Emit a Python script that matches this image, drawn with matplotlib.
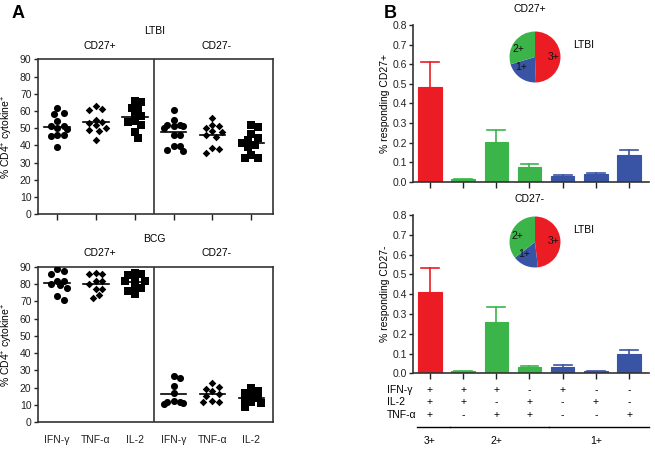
import numpy as np
import matplotlib
matplotlib.use("Agg")
import matplotlib.pyplot as plt

plt.rcParams['font.family'] = ['Liberation Sans', 'DejaVu Sans']
plt.rcParams['mathtext.fontset'] = 'custom'
plt.rcParams['mathtext.rm'] = 'Liberation Sans'
plt.rcParams['mathtext.it'] = 'Liberation Sans'

# ---- panel A data (% CD4+ cytokine+) ----
cytokines = ['IFN-γ', 'TNF-α', 'IL-2']
ltbi_pos = [
    [59, 58.5, 62, 54, 51, 50, 49.5, 51, 46, 45.5, 46, 39],
    [63, 61, 60.5, 55, 53.5, 53, 52, 50, 49, 48.5, 43],
    [65.5, 65, 62, 61.5, 58, 57, 54, 53.5, 52, 48, 44.5],
]
ltbi_neg = [
    [60.5, 55, 52, 52, 51.5, 51, 50, 46, 46, 39.5, 39.5, 37, 37.5],
    [56, 52, 51, 50, 48.5, 47.5, 46, 45, 38.5, 38, 35.5],
    [52, 50.5, 46.5, 44.5, 43, 41.5, 40.5, 39, 34.5, 32.5, 32.5],
]
bcg_pos = [
    [88.5, 87.5, 85.5, 82, 81.5, 80, 79.5, 77.5, 73, 71],
    [86.5, 86, 86, 82, 81.5, 80, 77, 77, 73.5, 72],
    [86.5, 85.5, 85, 83, 82, 81.5, 78, 77.5, 76, 74],
]
bcg_neg = [
    [26.5, 25.5, 21, 17, 12.5, 12, 11, 10.5, 12],
    [22.5, 20.5, 19.5, 18, 16.5, 15, 12.5, 12, 11.5],
    [20, 18, 17, 15, 14, 13, 11.5, 11, 9],
]

# ---- panel B data (% responding) ----
ifng = ['+', '+', '+', '-', '+', '-', '-']
il2 = ['+', '+', '-', '+', '-', '+', '-']
tnfa = ['+', '-', '+', '+', '-', '-', '+']
groups = ['3+', '2+', '2+', '2+', '1+', '1+', '1+']
pos_mean = [0.482, 0.012, 0.204, 0.073, 0.029, 0.039, 0.136]
pos_err = [0.127, 0.002, 0.062, 0.015, 0.004, 0.007, 0.027]
neg_mean = [0.412, 0.010, 0.260, 0.034, 0.032, 0.010, 0.097]
neg_err = [0.118, 0.001, 0.076, 0.005, 0.011, 0.001, 0.019]

group_colors = {'3+': '#ec1c24', '2+': '#3bb54a', '1+': '#3a54a5'}
markers = ['o', 'D', 's']
msizes = [26, 15, 26]
FS = 7.5

W, H = 655, 449
fig = plt.figure(figsize=(6.55, 4.49), dpi=100)


def frac(x0, y0, x1, y1):
    return [x0 / W, 1 - y1 / H, (x1 - x0) / W, (y1 - y0) / H]


def swarm(vals, center, xpx, ypx, diam=6.5, kmax=3):
    # beeswarm-ish spread, capped width like prism column scatter
    vals = np.asarray(vals, float)
    out = np.zeros(len(vals))
    placed = []
    step = 0.5 * diam / xpx
    cands = [0]
    for k in range(1, kmax + 1):
        cands += [k, -k]
    for i in np.argsort(-vals):
        y = vals[i]
        best, bestd = 0, -1
        for k in cands:
            off = k * step
            d = min([np.hypot((off - px) * xpx, (y - py) * ypx) for px, py in placed] or [99])
            if d >= diam:
                best = off
                break
            if d > bestd:
                best, bestd = off, d
        placed.append((best, y))
        out[i] = center + best
    return out


def panel_a(rect, pos, neg, title, show_xlabels):
    ax = fig.add_axes(rect)
    xpx = rect[2] * W / 6.05
    ypx = rect[3] * H / 90
    for j, vals in enumerate(pos + neg):
        k = j % 3
        xs = swarm(vals, j, xpx, ypx)
        ax.scatter(xs, vals, marker=markers[k], s=msizes[k], color='black', linewidths=0, zorder=3)
        m = np.mean(vals)
        ax.plot([j - 0.33, j + 0.33], [m, m], color='black', lw=1.2, zorder=2)
    ax.axvline(2.5, color='#333333', lw=1.2)
    ax.set_xlim(-0.5, 5.55)
    ax.set_ylim(0, 90)
    ax.set_yticks(range(0, 91, 10))
    ax.set_xticks(range(6))
    if show_xlabels:
        ax.set_xticklabels(cytokines * 2)
        ax.tick_params(axis='x', length=0, pad=9)
    else:
        ax.set_xticklabels([])
        ax.tick_params(axis='x', length=4)
    ax.tick_params(axis='y', length=3, pad=1.5)
    ax.tick_params(labelsize=FS, width=1, colors='#222222')
    for s in ax.spines.values():
        s.set_linewidth(1.2)
        s.set_color('#333333')
    ax.set_ylabel('% CD4$^{+}$ cytokine$^{+}$', fontsize=FS)
    ax.yaxis.set_label_coords(-0.095, 0.5)
    ax.text(2.5, 1.18, title, transform=ax.get_xaxis_transform(), ha='center', va='center', fontsize=FS)
    ax.text(1.1, 1.085, 'CD27+', transform=ax.get_xaxis_transform(), ha='center', va='center', fontsize=FS)
    ax.text(4.1, 1.085, 'CD27-', transform=ax.get_xaxis_transform(), ha='center', va='center', fontsize=FS)
    return ax


panel_a(frac(37.7, 59.3, 272.7, 214.3), ltbi_pos, ltbi_neg, 'LTBI', False)
panel_a(frac(37.7, 266.7, 272.7, 422.3), bcg_pos, bcg_neg, 'BCG', True)
fig.text(12 / W, 1 - 14 / H, 'A', fontsize=13, fontweight='bold', va='center')
fig.text(384 / W, 1 - 14 / H, 'B', fontsize=13, fontweight='bold', va='center')


def panel_b(rect, means, errs, label):
    ax = fig.add_axes(rect)
    x = np.arange(len(means))
    cols = [group_colors[g] for g in groups]
    ax.bar(x, means, width=0.7, color=cols, edgecolor=cols, linewidth=0.8, zorder=2)
    for xi, m, e, c in zip(x, means, errs, cols):
        ax.plot([xi, xi], [m, m + e], color=c, lw=1.2, zorder=1)
        ax.plot([xi - 0.27, xi + 0.27], [m + e, m + e], color=c, lw=1.2, zorder=1)
    ax.set_xlim(-0.5, 6.6)
    ax.set_ylim(0, 0.8)
    ax.set_yticks(np.arange(0, 0.81, 0.1))
    ax.set_yticklabels(['%.1f' % v for v in np.arange(0, 0.81, 0.1)])
    ax.set_xticks(x)
    ax.set_xticklabels([])
    ax.tick_params(labelsize=FS, width=1, length=4, colors='#222222')
    ax.tick_params(axis='y', length=3, pad=1.5)
    ax.spines['top'].set_visible(False)
    ax.spines['right'].set_visible(False)
    for s in ['left', 'bottom']:
        ax.spines[s].set_linewidth(1.2)
        ax.spines[s].set_color('#333333')
    ax.set_ylabel('% responding ' + label, fontsize=FS)
    ax.yaxis.set_label_coords(-0.1, 0.5)
    ax.text(3.0, 1.1, label, transform=ax.get_xaxis_transform(), ha='center', va='center', fontsize=FS)
    return ax


def pie(cx, cy, means, r=26):
    pa = fig.add_axes(frac(cx - r, cy - r, cx + r, cy + r))
    tot = {g: 0.0 for g in ['3+', '1+', '2+']}
    for g, m in zip(groups, means):
        tot[g] += m
    names = ['3+', '1+', '2+']
    sizes = [tot[n] for n in names]
    pa.pie(sizes, colors=[group_colors[n] for n in names], startangle=90, counterclock=False,
           labels=names, labeldistance=0.5, textprops={'fontsize': FS, 'color': '#111111'})
    pa.set_xlim(-1.02, 1.02)
    pa.set_ylim(-1.02, 1.02)
    pa.set_aspect('equal')
    fig.text((cx + 49) / W, 1 - (cy - 12) / H, 'LTBI', fontsize=FS, va='center', ha='center')


panel_b(frac(413.3, 25, 649, 181.7), pos_mean, pos_err, 'CD27+')
pie(535, 57, pos_mean)
axb = panel_b(frac(413.3, 215, 649, 373.3), neg_mean, neg_err, 'CD27-')
pie(535, 242, neg_mean)

# sign table under bottom B panel
tr = axb.get_xaxis_transform()
rows = [('IFN-γ', ifng, -0.105), ('IL-2', il2, -0.181), ('TNF-α', tnfa, -0.263)]
for name, signs, yy in rows:
    axb.text(-1.3, yy, name, transform=tr, ha='left', va='center', fontsize=FS, clip_on=False)
    for xi, s in enumerate(signs):
        axb.text(xi, yy, s, transform=tr, ha='center', va='center', fontsize=FS, clip_on=False)
for g in ['3+', '2+', '1+']:
    idx = [i for i, gg in enumerate(groups) if gg == g]
    axb.plot([idx[0] - 0.4, idx[-1] + 0.6], [-0.339, -0.339], transform=tr, color='black', lw=1, clip_on=False)
    axb.text((idx[0] + idx[-1]) / 2, -0.427, g, transform=tr, ha='center', va='center', fontsize=FS)

fig.savefig('out.png', dpi=100)
